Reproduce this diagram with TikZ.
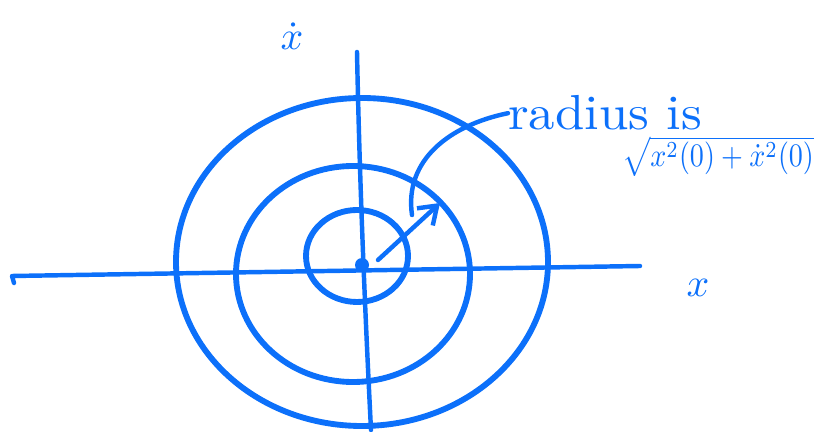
\documentclass[tikz,border=0pt]{standalone}
\usepackage{amsmath}
\usepackage{graphicx}
\usetikzlibrary{arrows.meta, positioning}
\definecolor{pen}{RGB}{12,112,250}
\newcommand{\handtext}[3][]{\scalebox{#2}[#3]{#1}}

\begin{document}
\begin{tikzpicture}[x=0.03cm, y=-0.03cm, pen, line cap=round, line join=round,
   axis/.style={line width=3.8pt},
   ring/.style={line width=5pt},
   lbl/.style={inner sep=0pt, text=pen}]
  \useasboundingbox (0,0) rectangle (836,432);
  % axes
  \coordinate (xl) at (12,276);
  \coordinate (xr) at (640,266);
  \coordinate (yt) at (357,52);
  \coordinate (yb) at (371,430);
  \draw[axis] (14,283) -- (xl) -- (xr);
  \draw[axis] (yt) .. controls (360,200) and (366,330) .. (yb);
  % centre
  \coordinate (o) at (362,265);
  \fill (o) circle (7);
  % rings
  \draw[ring] (357,256) ellipse (51 and 46);
  \draw[ring] (353,274) ellipse (117 and 108);
  \draw[ring] (362,262) ellipse (186 and 164);
  % radius arrow
  \coordinate (from) at (378,260);
  \coordinate (tip) at (440,203);
  \draw[axis, -{Straight Barb[length=5mm, width=7mm]}] (from) -- (tip);
  % labels
  \node[lbl] (xdot) at (292,36) {\handtext[$\dot{x}$]{3.4}{3.4}};
  \node[lbl] (xx) at (698,288) {\handtext[$x$]{3.4}{3.4}};
  \node[lbl, anchor=base west] (rad) at (508,130) {\handtext[radius is]{4.5}{4.2}};
  \node[lbl, anchor=north west] (val) at (622,136)
       {\handtext[$\sqrt{x^2(0)+\dot{x}^2(0)}$]{2.4}{2.8}};
  \coordinate (lead) at (412,215);
  \draw[axis] (lead) .. controls (404,160) and (450,125) .. (rad.west);
\end{tikzpicture}
\end{document}
